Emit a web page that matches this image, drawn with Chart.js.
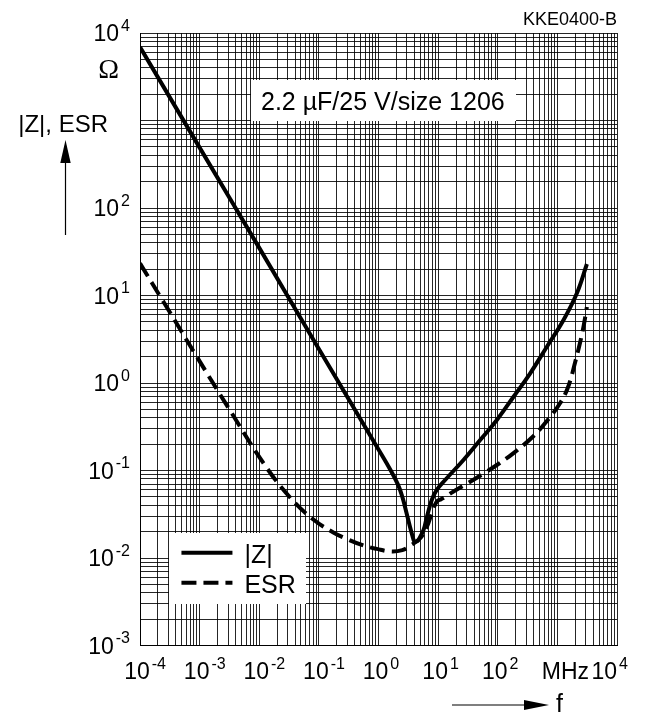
<!DOCTYPE html>
<html>
<head>
<meta charset="utf-8">
<title>|Z|, ESR versus f</title>
<script src="https://cdn.jsdelivr.net/npm/chart.js@4.4.1/dist/chart.umd.min.js"></script>
<style>
  body { margin: 0; background: #fff; }
  canvas { display: block; }
</style>
</head>
<body>
<canvas id="impedanceChart" width="648" height="713"></canvas>
<script>
// frequency in MHz, impedance in ohm
const zFreq = [0.0001, 0.001, 0.01, 0.1, 1, 1.58, 2.14, 2.51, 2.78, 3.37, 3.72, 3.98, 4.37, 4.68, 5.69, 6.49, 7.82, 9.48, 13.1, 26.6, 50.7, 96.6, 184, 350, 667, 1268, 2123, 3126];
const zValues = [6900, 490, 35, 2.45, 0.174, 0.102, 0.068, 0.050, 0.0385, 0.0228, 0.0178, 0.0155, 0.0155, 0.0161, 0.0209, 0.0296, 0.046, 0.060, 0.0778, 0.132, 0.223, 0.378, 0.697, 1.29, 2.60, 5.25, 10.6, 22.9];

const esrFreq = [0.0001, 0.000246, 0.000893, 0.00324, 0.0117, 0.0329, 0.0809, 0.175, 0.294, 0.558, 0.935, 1.57, 2.51, 3.39, 5.0, 6.49, 7.82, 9.48, 11.2, 13.1, 18.1, 31.6, 56.2, 96.6, 184, 399, 667, 1114, 1535, 1991, 2415, 2754, 3126];
const esrValues = [23.3, 8.53, 2.01, 0.485, 0.122, 0.0491, 0.0275, 0.0196, 0.0165, 0.0139, 0.0127, 0.0119, 0.0123, 0.0138, 0.0168, 0.0228, 0.0324, 0.044, 0.047, 0.0498, 0.0575, 0.0719, 0.0912, 0.1156, 0.158, 0.248, 0.368, 0.590, 0.925, 1.74, 2.94, 4.48, 7.39];

const xTickValues = [1e-4, 1e-3, 1e-2, 1e-1, 1, 10, 100, 1000, 1e4];
const xTickLabels = [['10', '-4'], ['10', '-3'], ['10', '-2'], ['10', '-1'], ['10', '0'], ['10', '1'], ['10', '2'], ['MHz', ''], ['10', '4']];
const yTickValues = [1e4, 1e2, 10, 1, 0.1, 0.01, 0.001];
const yTickLabels = [['10', '4'], ['10', '2'], ['10', '1'], ['10', '0'], ['10', '-1'], ['10', '-2'], ['10', '-3']];

const FONT = '"Liberation Sans", Arial, Helvetica, sans-serif';

// log paper grid: 1..9 in every decade
function logGrid(scale) {
    const ticks = [];
    const lo = Math.round(Math.log10(scale.min));
    const hi = Math.round(Math.log10(scale.max));
    for (let e = lo; e < hi; e++) {
        for (let m = 1; m < 10; m++) {
            ticks.push({ value: m * Math.pow(10, e) });
        }
    }
    ticks.push({ value: Math.pow(10, hi) });
    scale.ticks = ticks;
}

function drawPower(ctx, base, exp, left, baseline) {
    ctx.textAlign = 'left';
    ctx.font = '23px ' + FONT;
    ctx.fillText(base, left, baseline);
    const wb = ctx.measureText(base).width;
    if (exp) {
        ctx.font = '16px ' + FONT;
        ctx.fillText(exp, left + wb + 2, baseline - 10.5);
    }
}

function powerWidth(ctx, base, exp) {
    ctx.font = '23px ' + FONT;
    const wb = ctx.measureText(base).width;
    if (!exp) return { wb: wb, total: wb };
    ctx.font = '16px ' + FONT;
    return { wb: wb, total: wb + 2 + ctx.measureText(exp).width };
}

const decorPlugin = {
    id: 'decor',
    beforeDatasetsDraw(chart) {
        const { ctx, scales: { x, y } } = chart;
        ctx.save();
        ctx.fillStyle = '#fff';
        // white boxes laid on the grid (edges stay on grid lines)
        const boxes = [
            [0.007, 200, 3000, 1000],
            [0.0003, 0.06, 0.02, 0.003]
        ];
        boxes.forEach(function (b) {
            const x1 = Math.round(x.getPixelForValue(b[0])) + 1;
            const x2 = Math.round(x.getPixelForValue(b[1]));
            const y1 = Math.round(y.getPixelForValue(b[2])) + 1;
            const y2 = Math.round(y.getPixelForValue(b[3]));
            ctx.fillRect(x1, y1, x2 - x1, y2 - y1);
        });

        // annotation
        ctx.fillStyle = '#000';
        ctx.font = '25px ' + FONT;
        ctx.textAlign = 'center';
        ctx.textBaseline = 'alphabetic';
        const ax = (x.getPixelForValue(0.007) + x.getPixelForValue(200)) / 2;
        ctx.fillText('2.2 \u00B5F/25 V/size 1206', ax, y.getPixelForValue(1000) - 10.5);

        // legend
        const lx = x.getPixelForValue(0.0003) + 13;
        const ly = y.getPixelForValue(0.02);
        chart.data.datasets.forEach(function (ds, i) {
            const yy = ly + 21 + i * 30;
            ctx.beginPath();
            ctx.lineWidth = ds.borderWidth;
            ctx.strokeStyle = ds.borderColor;
            ctx.setLineDash(ds.borderDash || []);
            ctx.moveTo(lx, yy);
            ctx.lineTo(lx + 51, yy);
            ctx.stroke();
            ctx.setLineDash([]);
            ctx.font = '25px ' + FONT;
            ctx.textAlign = 'left';
            ctx.fillText(ds.label, lx + 63, yy + 10.5);
        });
        ctx.restore();
    },
    afterDraw(chart) {
        const { ctx, chartArea, scales: { x, y } } = chart;
        ctx.save();
        ctx.fillStyle = '#000';
        ctx.strokeStyle = '#000';
        ctx.textBaseline = 'alphabetic';

        // x tick labels
        xTickValues.forEach(function (v, i) {
            const px = x.getPixelForValue(v);
            const lab = xTickLabels[i];
            const w = powerWidth(ctx, lab[0], lab[1]);
            let left = px - 3 - w.wb / 2;
            if (!lab[1]) left = px + 8 - w.wb / 2;
            if (i === xTickValues.length - 1) left = px - w.wb;
            drawPower(ctx, lab[0], lab[1], left, chartArea.bottom + 33.5);
        });

        // y tick labels
        yTickValues.forEach(function (v, i) {
            const py = y.getPixelForValue(v);
            const lab = yTickLabels[i];
            const w = powerWidth(ctx, lab[0], lab[1]);
            drawPower(ctx, lab[0], lab[1], chartArea.left - 10 - w.total, py + 8.3);
        });

        // unit and axis title
        ctx.textAlign = 'right';
        ctx.font = '28px "Liberation Serif", "Times New Roman", serif';
        ctx.fillText('\u03A9', chartArea.left - 21, 78);
        ctx.font = '24px ' + FONT;
        ctx.fillText('|Z|, ESR', chartArea.left - 32, 131.5);

        // y arrow
        ctx.lineWidth = 1.2;
        ctx.beginPath();
        ctx.moveTo(65.5, 235);
        ctx.lineTo(65.5, 160);
        ctx.stroke();
        ctx.beginPath();
        ctx.moveTo(65.5, 140);
        ctx.lineTo(60.3, 163);
        ctx.lineTo(70.7, 163);
        ctx.closePath();
        ctx.fill();

        // x arrow
        ctx.beginPath();
        ctx.moveTo(452, 705);
        ctx.lineTo(530, 705);
        ctx.stroke();
        ctx.beginPath();
        ctx.moveTo(549, 705);
        ctx.lineTo(524, 700);
        ctx.lineTo(524, 710);
        ctx.closePath();
        ctx.fill();
        ctx.textAlign = 'left';
        ctx.font = '25px ' + FONT;
        ctx.fillText('f', 556, 712);

        // drawing code
        ctx.textAlign = 'right';
        ctx.font = '18px ' + FONT;
        ctx.fillText('KKE0400-B', chartArea.right, 25);
        ctx.restore();
    }
};

const gridStyle = {
    color: 'rgba(0, 0, 0, 0.85)',
    lineWidth: 1,
    drawTicks: false
};

const chart = new Chart(document.getElementById('impedanceChart'), {
    type: 'line',
    data: {
        datasets: [{
            label: '|Z|',
            data: zFreq.map((f, i) => ({ x: f, y: zValues[i] })),
            borderColor: '#000',
            borderWidth: 4,
            pointRadius: 0,
            tension: 0.4,
            fill: false
        }, {
            label: 'ESR',
            data: esrFreq.map((f, i) => ({ x: f, y: esrValues[i] })),
            borderColor: '#000',
            borderWidth: 4,
            borderDash: [15, 7],
            pointRadius: 0,
            tension: 0.4,
            fill: false
        }]
    },
    options: {
        responsive: false,
        animation: false,
        layout: {
            padding: { left: 140, top: 33, right: 31, bottom: 67.5 }
        },
        scales: {
            x: {
                type: 'logarithmic',
                min: 1e-4,
                max: 1e4,
                afterBuildTicks: logGrid,
                grid: gridStyle,
                border: { display: true, color: '#000', width: 1 },
                ticks: { display: false, autoSkip: false }
            },
            y: {
                type: 'logarithmic',
                min: 1e-3,
                max: 1e4,
                afterBuildTicks: logGrid,
                grid: gridStyle,
                border: { display: true, color: '#000', width: 1 },
                ticks: { display: false, autoSkip: false }
            }
        },
        plugins: {
            legend: { display: false },
            tooltip: { enabled: false }
        }
    },
    plugins: [decorPlugin]
});
</script>
</body>
</html>
